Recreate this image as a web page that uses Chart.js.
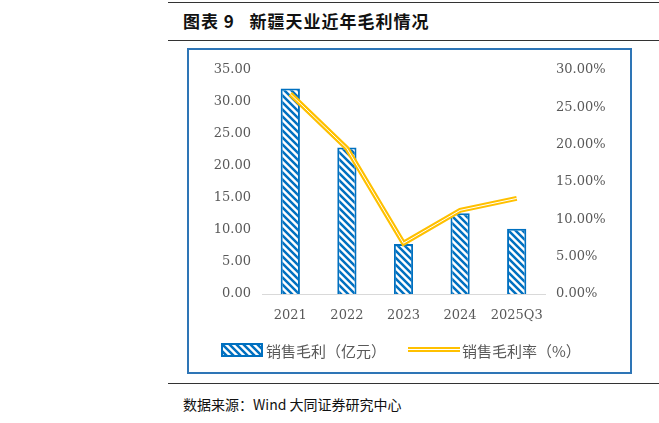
<!DOCTYPE html>
<html>
<head>
<meta charset="utf-8">
<script src="https://cdn.jsdelivr.net/npm/chart.js@4"></script>
<style>
body { margin: 0; width: 659px; height: 423px; background: #fff; position: relative; overflow: hidden; font-family: "Noto Sans CJK SC", sans-serif; }
.rule { position: absolute; left: 168px; right: 0; height: 1px; background: #333; }
#title { position: absolute; left: 183px; top: 8px; font-size: 17px; font-weight: bold; color: #111; letter-spacing: 1px; }
#box { position: absolute; left: 187px; top: 48px; width: 441px; height: 322px; border: 2px solid #2E75B6; }
#wrap { position: absolute; left: 190px; top: 52px; width: 436px; height: 316px; }
#source { position: absolute; left: 183px; top: 394px; font-size: 14px; color: #111; }
.leg { position: absolute; top: 340px; font-size: 15px; color: #595959; }
</style>
</head>
<body>
<div class="rule" style="top:2px"></div>
<div id="title">图表 9&nbsp;&nbsp;&nbsp;新疆天业近年毛利情况</div>
<div class="rule" style="top:40px"></div>
<div id="box"></div>
<div id="wrap"><canvas id="chart"></canvas></div>
<canvas id="legBar" width="42" height="14" style="position:absolute;left:221px;top:343px"></canvas>
<div class="leg" style="left:266px">销售毛利（亿元）</div>
<canvas id="legLine" width="52" height="10" style="position:absolute;left:408px;top:345px"></canvas>
<div class="leg" style="left:462px">销售毛利率（%）</div>
<div class="rule" style="top:383px"></div>
<div id="source">数据来源：Wind 大同证券研究中心</div>
<script>
// data
const years = ['2021', '2022', '2023', '2024', '2025Q3'];
const grossProfit = [32.1, 22.9, 7.8, 12.6, 10.2];      // 亿元
const grossMargin = [26.8, 19.5, 6.8, 11.2, 12.8];      // %

const BLUE = '#0070C0';
const GOLD = '#FFC000';

function hatch() {
    const c = document.createElement('canvas');
    c.width = 7; c.height = 7;
    const g = c.getContext('2d');
    g.fillStyle = '#fff';
    g.fillRect(0, 0, 7, 7);
    g.strokeStyle = BLUE;
    g.lineWidth = 2.5;
    g.beginPath();
    g.moveTo(-1, -1); g.lineTo(8, 8);
    g.moveTo(-1, 6); g.lineTo(1, 8);
    g.moveTo(6, -1); g.lineTo(8, 1);
    g.stroke();
    return g.createPattern(c, 'repeat');
}

// legend samples
(function() {
    const g = document.getElementById('legBar').getContext('2d');
    g.fillStyle = hatch();
    g.fillRect(1, 1, 40, 12);
    g.strokeStyle = BLUE; g.lineWidth = 2;
    g.strokeRect(1, 1, 40, 12);
    const l = document.getElementById('legLine').getContext('2d');
    l.fillStyle = GOLD; l.fillRect(0, 2, 52, 5);
    l.fillStyle = '#fff'; l.fillRect(0, 4, 52, 1);
})();

const tickFont = { family: '"DejaVu Serif", serif', size: 13 };

new Chart(document.getElementById('chart'), {
    data: {
        labels: years,
        datasets: [
            { type: 'line', data: grossMargin, yAxisID: 'y1', borderColor: '#fff', borderWidth: 1, pointRadius: 0, order: 0 },
            { type: 'line', data: grossMargin, yAxisID: 'y1', borderColor: GOLD, borderWidth: 5, pointRadius: 0, order: 1 },
            { type: 'bar', data: grossProfit, yAxisID: 'y', backgroundColor: hatch(), borderColor: BLUE, borderWidth: 2,
              barPercentage: 0.34, categoryPercentage: 1, order: 2 }
        ]
    },
    options: {
        responsive: true,
        maintainAspectRatio: false,
        animation: false,
        layout: { padding: { top: 18, left: 0, right: 0, bottom: 0 } },
        plugins: { legend: { display: false }, tooltip: { enabled: false } },
        scales: {
            x: {
                grid: { display: false },
                border: { color: '#D9D9D9' },
                ticks: { font: tickFont, color: '#595959', maxRotation: 0, minRotation: 0, autoSkip: false, padding: 6 },
                afterFit: s => { s.height = 74; }
            },
            y: {
                min: 0, max: 35,
                grid: { display: false },
                border: { display: false },
                ticks: { stepSize: 5, font: tickFont, color: '#595959', callback: v => v.toFixed(2) },
                afterFit: s => { s.width = 72; }
            },
            y1: {
                position: 'right',
                min: 0, max: 30,
                grid: { display: false },
                border: { display: false },
                ticks: { stepSize: 5, font: tickFont, color: '#595959', callback: v => v.toFixed(2) + '%' },
                afterFit: s => { s.width = 81; }
            }
        }
    }
});
</script>
</body>
</html>
